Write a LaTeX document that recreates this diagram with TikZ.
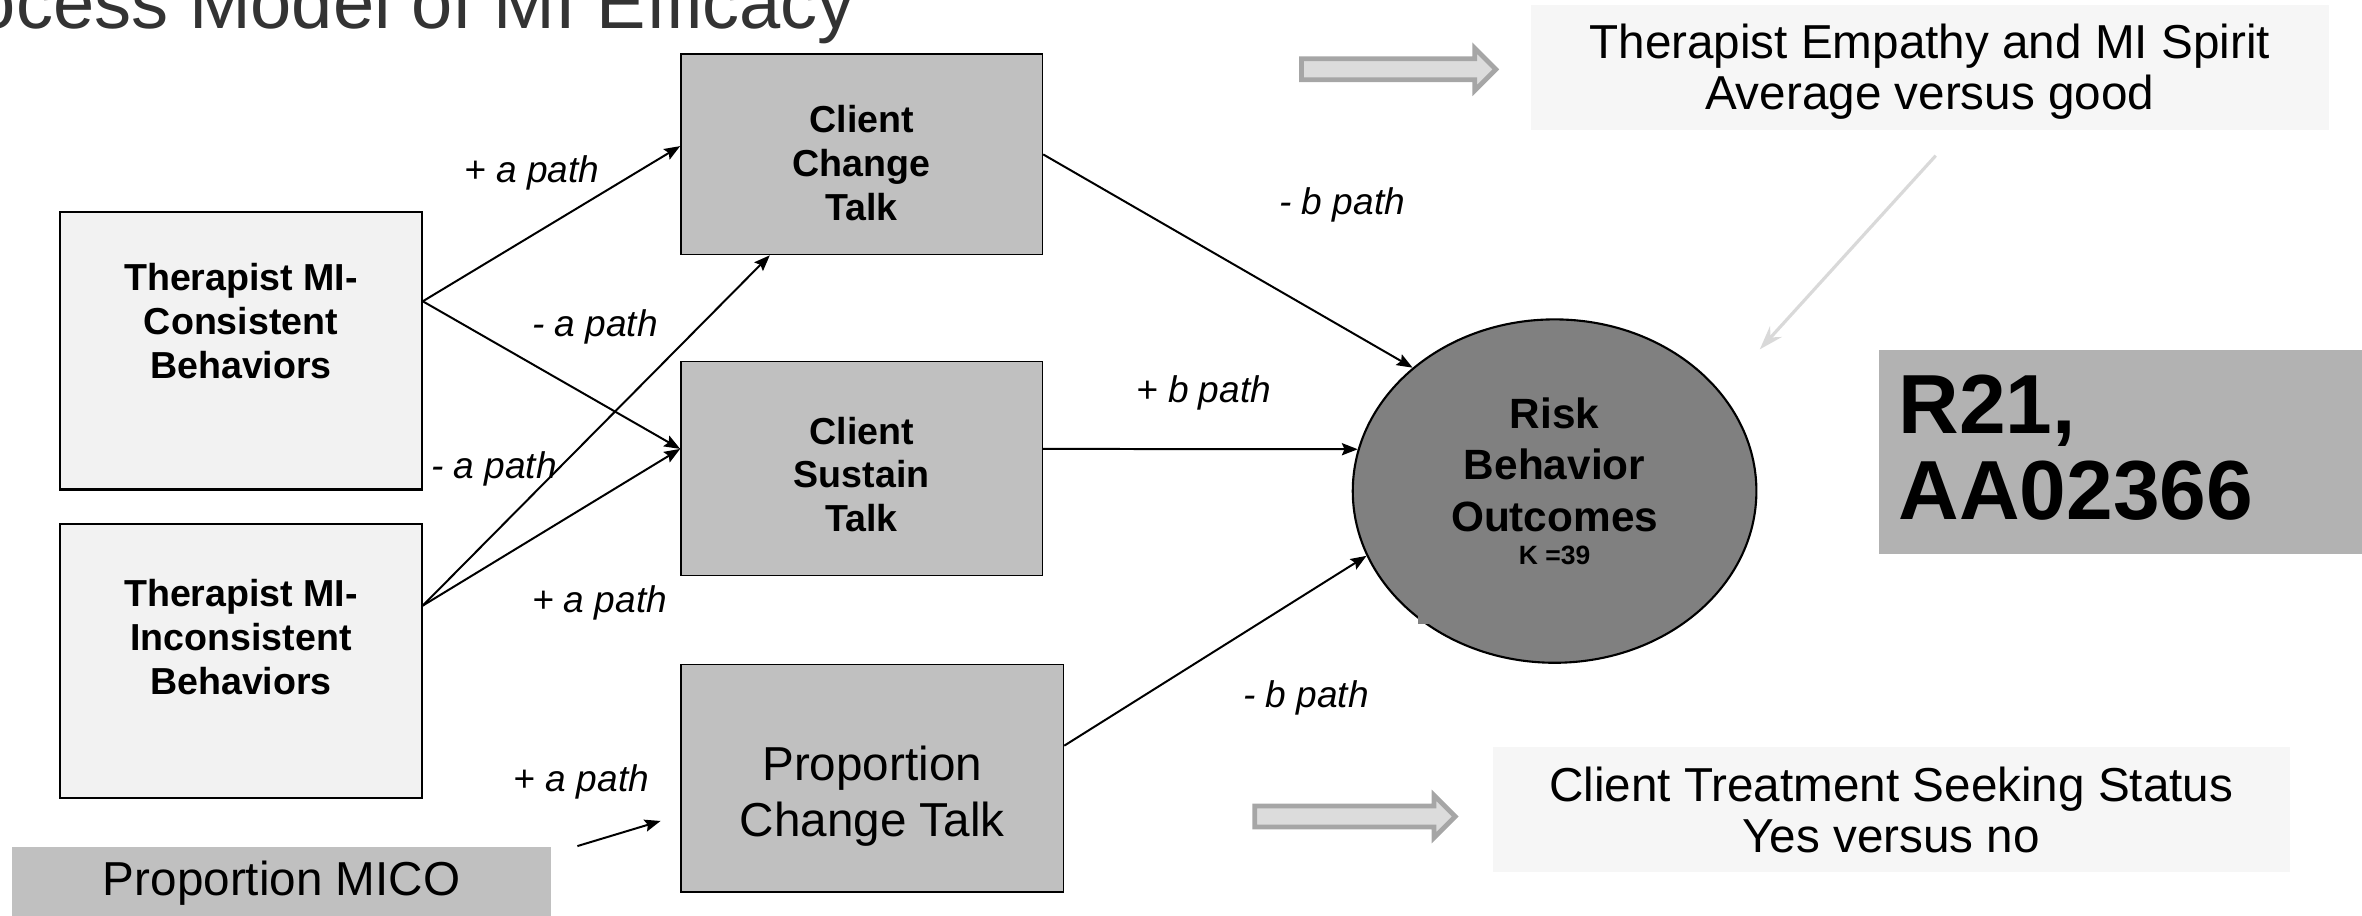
\documentclass[tikz,border=0pt]{standalone}
\usepackage{fontspec}
\setmainfont{Liberation Sans}
\usetikzlibrary{positioning,shapes.geometric,arrows.meta}

\definecolor{boxlight}{HTML}{F2F2F2}
\definecolor{boxgrey}{HTML}{C0C0C0}
\definecolor{ovalgrey}{HTML}{808080}
\definecolor{notegrey}{HTML}{F6F6F6}
\definecolor{codegrey}{HTML}{B2B2B2}
\definecolor{titlegrey}{HTML}{333333}
\definecolor{hintgrey}{HTML}{D9D9D9}
\definecolor{blockfill}{HTML}{DCDCDC}
\definecolor{blockline}{HTML}{A6A6A6}

\tikzset{
  behbox/.style={draw=black, fill=boxlight, line width=0.8pt, minimum width=4.8cm, inner sep=0pt},
  talkbox/.style={draw=black, fill=boxgrey, line width=0.6pt, minimum width=4.8cm, inner sep=0pt},
  boldtxt/.style={align=center, font=\fontsize{14.2}{16.6}\selectfont\bfseries},
  bigtxt/.style={align=center, font=\fontsize{18}{20}\selectfont},
  pathlbl/.style={font=\fontsize{14}{16}\selectfont\itshape, inner sep=1pt},
  notebox/.style={fill=notegrey, minimum width=10.6cm, minimum height=1.66cm, inner sep=0pt},
  conn/.style={-{Stealth[length=6pt,width=4.6pt,inset=1pt]}, line width=0.75pt},
  blockarrow/.style={fill=blockfill, draw=blockline, line width=1.8pt}
}

\begin{document}
\begin{tikzpicture}[x=0.02cm, y=-0.02cm]
\useasboundingbox (0,0) rectangle (1568,608);

% title, cut by the page
\node[anchor=base west, inner sep=0pt, text=titlegrey, font=\fontsize{28}{30}\selectfont] (title) at (-17,19) {ocess Model of MI Efficacy};

% therapist behaviours
\node[behbox, minimum height=3.68cm] (tc) at (160,233) {};
\node[boldtxt] (tctxt) at ([yshift=0.4cm]tc.center) {Therapist MI-\\Consistent\\Behaviors};
\node[behbox, minimum height=3.64cm] (ti) at (160,439) {};
\node[boldtxt] (titxt) at ([yshift=0.32cm]ti.center) {Therapist MI-\\Inconsistent\\Behaviors};

% client talk
\node[talkbox, minimum height=2.66cm] (cct) at (572,102.5) {};
\node[boldtxt] (ccttxt) at ([yshift=-0.11cm]cct.center) {Client\\Change\\Talk};
\node[talkbox, minimum height=2.84cm] (cst) at (572,311) {};
\node[boldtxt] (csttxt) at ([yshift=-0.08cm]cst.center) {Client\\Sustain\\Talk};
\node[talkbox, minimum width=5.08cm, minimum height=3.02cm] (pct) at (579,516.5) {};
\node[bigtxt, font=\fontsize{18}{21}\selectfont] (pcttxt) at ([yshift=-0.24cm]pct.center) {Proportion\\Change Talk};
\node[fill=boxgrey, bigtxt, minimum width=7.16cm, minimum height=0.96cm, inner sep=0pt] (mico) at (187,586) {Proportion MICO};

% outcome
\node[ellipse, draw=black, fill=ovalgrey, line width=0.8pt, minimum width=5.36cm, minimum height=4.56cm, inner sep=0pt] (rbo) at (1032,326) {};
\fill[ovalgrey] (941,398) rectangle (956,414);
\node[align=center, font=\fontsize{16}{19.4}\selectfont\bfseries] (rbotxt) at ([yshift=0.13cm]rbo.center) {Risk\\Behavior\\Outcomes\\[-6.8pt]{\fontsize{10}{11}\selectfont K =39}};

% moderators
\node[notebox] (emp) at (1281,44.5) {};
\node[bigtxt, font=\fontsize{18}{19.4}\selectfont] (emptxt) at ([yshift=-0.06cm]emp.center) {Therapist Empathy and MI Spirit\\Average versus good};
\node[notebox, bigtxt, font=\fontsize{18}{19.4}\selectfont, minimum width=10.58cm] (seek) at (1255.5,537.5) {Client Treatment Seeking Status\\Yes versus no};
\node[fill=codegrey, minimum width=6.42cm, minimum height=2.72cm, inner sep=0pt] (r21) at (1407.5,300) {};
\node[anchor=west, align=left, inner sep=0pt, font=\fontsize{31.7}{32.4}\selectfont\bfseries] (r21txt) at (1260,297) {R21,\\AA02366};

\draw[blockarrow] (864,39) -- (979,39) -- (979,32) -- (993,46) -- (979,60) -- (979,53) -- (864,53) -- cycle;
\draw[blockarrow] (833,535) -- (952,535) -- (952,528) -- (966,542) -- (952,556) -- (952,549) -- (833,549) -- cycle;
\draw[-{Stealth[length=9pt,width=6pt]}, hintgrey, line width=1.2pt] ([xshift=0.08cm,yshift=-0.34cm]emp.south) -- ([xshift=0.82cm,yshift=0.26cm]rbo.north east);

% a paths
\draw[conn] ([yshift=0.66cm]tc.east) -- ([yshift=0.11cm]cct.west);
\draw[conn] ([yshift=0.66cm]tc.east) -- ([yshift=0.26cm]cst.west);
\draw[conn] ([yshift=0.74cm]ti.east) -- ([xshift=-1.22cm]cct.south);
\draw[conn] ([yshift=0.74cm]ti.east) -- ([yshift=0.26cm]cst.west);
\draw[conn] ([xshift=0.34cm]mico.north east) -- ([xshift=-0.26cm,yshift=-0.57cm]pct.west);

% b paths
\draw[conn] (cct.east) -- (rbo.139);
\draw[conn] ([yshift=0.26cm]cst.east) -- (rbo.168);
\draw[conn] ([yshift=0.43cm]pct.east) -- (rbo.199);

\node[pathlbl] (lab1) at (353,115) {+ a path};
\node[pathlbl] (lab2) at (395,217) {- a path};
\node[pathlbl] (lab3) at (328,311) {- a path};
\node[pathlbl] (lab4) at (398,400) {+ a path};
\node[pathlbl] (lab5) at (386,519) {+ a path};
\node[pathlbl] (lab6) at (891,136) {- b path};
\node[pathlbl] (lab7) at (799,261) {+ b path};
\node[pathlbl] (lab8) at (867,463) {- b path};
\end{tikzpicture}
\end{document}
